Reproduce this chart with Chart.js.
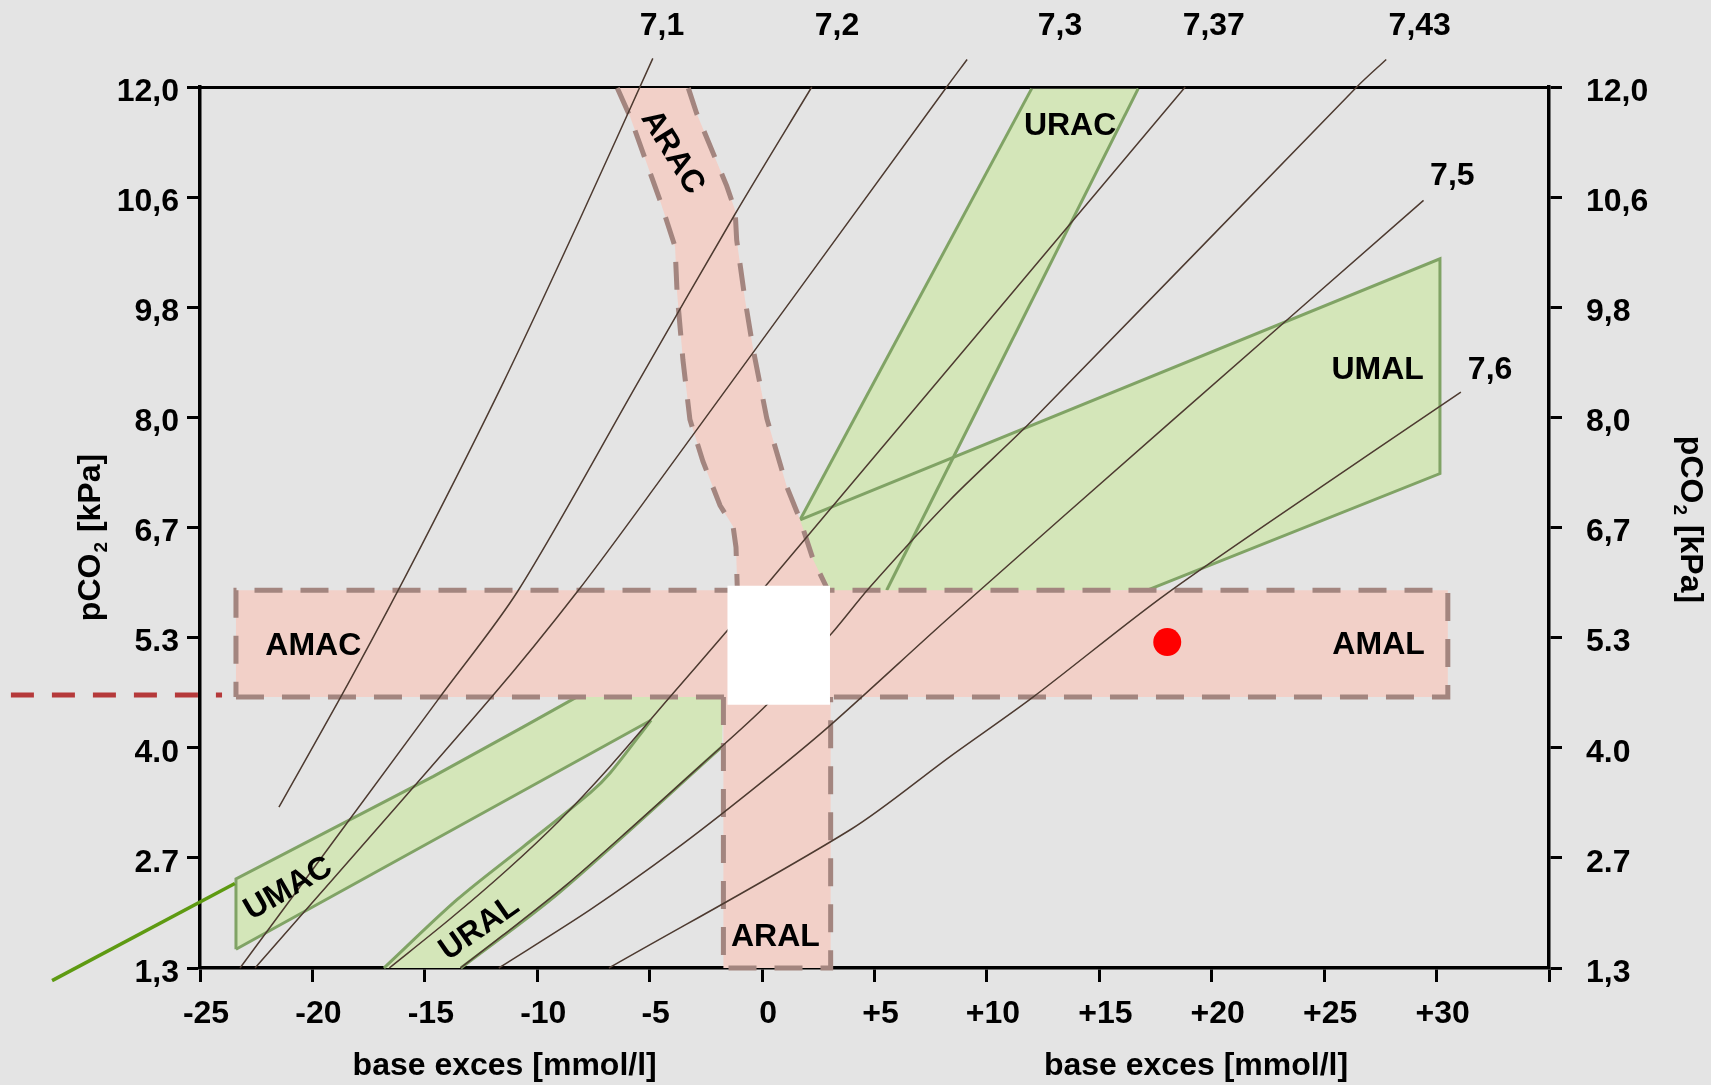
<!DOCTYPE html>
<html>
<head>
<meta charset="utf-8">
<script src="https://cdn.jsdelivr.net/npm/chart.js@4.4.1/dist/chart.umd.min.js"></script>
<style>
  html, body { margin: 0; padding: 0; background: #e4e4e4; }
  #wrap { width: 1711px; height: 1085px; }
</style>
</head>
<body>
<div id="wrap"><canvas id="chart"></canvas></div>
<script>
// axes
const xTicks = [-25, -20, -15, -10, -5, 0, 5, 10, 15, 20, 25, 30];
const yTickLabels = ['1,3', '2.7', '4.0', '5.3', '6,7', '8,0', '9,8', '10,6', '12,0'];
const xTitle = 'base exces [mmol/l]';

// pH isopleths, [base excess, pCO2 position]
const phLabels = ['7,1', '7,2', '7,3', '7,37', '7,43', '7,5', '7,6'];
const ph71 = [[-4.86, 8.26], [-8.08, 6.81], [-11.50, 5.32], [-15.14, 3.84], [-18.23, 2.65], [-21.49, 1.46]];
const ph72 = [[2.21, 8.0], [-1.22, 6.84], [-5.43, 5.35], [-10.84, 3.43], [-14.33, 2.46], [-23.22, 0]];
const ph73 = [[9.12, 8.25], [8.21, 8.0], [-4.54, 4.43], [-8.17, 3.43], [-12.03, 2.46], [-22.55, 0]];
const ph737 = [[18.82, 8.0], [0.20, 3.48], [-1.65, 3.04], [-4.10, 2.46], [-6.76, 1.83], [-9.01, 1.34], [-11.35, 0.89], [-13.91, 0.44], [-16.58, 0]];
const ph743 = [[27.76, 8.25], [26.45, 8.0], [12.06, 4.98], [8.36, 4.25], [4.80, 3.46], [3.10, 3.04], [0.21, 2.39], [-2.73, 1.84], [-5.67, 1.30], [-8.73, 0.75], [-11.51, 0.30], [-13.42, 0]];
const ph75 = [[29.42, 6.97], [18.29, 4.98], [8.36, 3.19], [2.95, 2.19], [-0.43, 1.62], [-3.90, 1.07], [-7.64, 0.53], [-11.71, 0]];
const ph76 = [[31.08, 5.23], [27.04, 4.67], [18.00, 3.40], [12.05, 2.46], [8.36, 1.92], [3.96, 1.26], [-6.81, 0]];
const phLines = [ph71, ph72, ph73, ph737, ph743, ph75, ph76];
const phLabelPos = [[-4.45, 8.58], [3.33, 8.58], [13.25, 8.58], [20.09, 8.58], [29.25, 8.58], [30.70, 7.21], [32.38, 5.45]];

// acute zones (pink)
const amBand = [[-23.4, 2.46], [30.5, 2.46], [30.5, 3.43], [-23.4, 3.43], [-23.4, 2.46]];
const aral = [[-1.72, 2.46], [-1.72, 0], [3.05, 0], [3.05, 2.46]];
const aracLeft = [[-6.44, 7.99], [-5.87, 7.73], [-4.54, 6.97], [-3.87, 6.55], [-3.78, 6.13], [-3.52, 5.52], [-3.21, 4.98], [-2.63, 4.60], [-1.87, 4.20], [-1.29, 4.01], [-1.16, 3.82], [-1.10, 3.43]];
const aracRight = [[-3.28, 7.99], [-2.91, 7.76], [-1.57, 7.10], [-1.20, 6.88], [-1.13, 6.61], [-0.76, 6.07], [-0.39, 5.61], [0.21, 4.99], [1.10, 4.37], [1.69, 4.07], [2.27, 3.71], [2.93, 3.43]];
const normalBox = [[-1.54, 2.39], [3.02, 2.39], [3.02, 3.47], [-1.54, 3.47]];

// compensated zones (green)
const uracArea = [[1.69, 4.07], [11.99, 7.985], [16.73, 7.985], [5.54, 3.41], [1.69, 3.41]];
const umalArea = [[1.69, 4.07], [30.15, 6.44], [30.15, 4.49], [17.11, 3.43], [1.69, 3.41]];
const lowArea = [[-23.40, 0.81], [-14.62, 1.74], [-10.62, 2.19], [-8.25, 2.46], [-1.74, 2.46], [-1.78, 2.01], [-8.99, 0.69], [-13.40, 0], [-16.82, 0], [-13.57, 0.62], [-10.63, 1.10], [-7.65, 1.59], [-6.76, 1.77], [-4.94, 2.25], [-23.40, 0.17]];
const uracLeft = [[1.69, 4.07], [11.99, 7.985]];
const uracRight = [[16.73, 7.985], [5.54, 3.43]];
const umalEdge = [[1.69, 4.07], [30.15, 6.44], [30.15, 4.49], [17.11, 3.43]];
const umacTop = [[-23.40, 0.17], [-23.40, 0.81], [-14.62, 1.74], [-10.62, 2.19], [-8.25, 2.46]];
const umacBottom = [[-23.40, 0.17], [-4.94, 2.25]];
const uralLeft = [[-4.94, 2.25], [-6.76, 1.77], [-7.65, 1.59], [-10.63, 1.10], [-13.57, 0.62], [-16.82, 0]];
const uralRight = [[-13.40, 0], [-8.99, 0.69], [-1.78, 2.01]];

// markers outside the frame and the patient value
const redDash = [[-33.41, 2.48], [-24.02, 2.48]];
const greenPointer = [[-31.58, -0.115], [-23.45, 0.768]];
const patient = [[18.02, 2.96]];

const zoneLabels = ['AMAC', 'AMAL', 'ARAL', 'UMAL', 'URAC', 'ARAC', 'UMAC', 'URAL'];
const zoneLabelPos = [[-19.96, 2.95], [27.42, 2.96], [0.59, 0.30], [27.38, 5.45], [13.70, 7.67], [-3.89, 7.42], [-21.13, 0.74], [-12.64, 0.38]];
const zoneLabelAngle = [0, 0, 0, 0, 0, 58, -30, -35];

const FAMILY = '"Liberation Sans", Arial, Helvetica, sans-serif';
const PINK = '#f2d0c8', PINK_EDGE = '#a3857f';
const GREEN = '#d4e6b9', GREEN_EDGE = '#80a365';

const pts = a => a.map(p => ({ x: p[0], y: p[1] }));

function area(data, color, order) {
  return { data: pts(data), showLine: true, fill: 'shape', backgroundColor: color,
           borderWidth: 0, borderColor: 'transparent', pointRadius: 0, order };
}
function edge(data, color, width, order, dash, tension) {
  return { data: pts(data), showLine: true, fill: false, borderColor: color, borderWidth: width,
           borderDash: dash || [], tension: tension || 0, pointRadius: 0, order, clip: false };
}

const datasets = [
  area(uracArea, GREEN, 60),
  area(umalArea, GREEN, 60),
  area(lowArea, GREEN, 60),
  edge(uracLeft, GREEN_EDGE, 3, 50),
  edge(uracRight, GREEN_EDGE, 3, 50),
  edge(umalEdge, GREEN_EDGE, 3, 50),
  edge(umacTop, GREEN_EDGE, 3, 50),
  edge(umacBottom, GREEN_EDGE, 3, 50),
  edge(uralLeft, GREEN_EDGE, 3, 50, null, 0.3),
  edge(uralRight, GREEN_EDGE, 3, 50, null, 0.3),
  area(amBand, PINK, 40),
  area(aral, PINK, 40),
  area(aracLeft.concat([[-1.10, 3.0], [2.93, 3.0]], aracRight.slice().reverse()), PINK, 40),
  edge(amBand, PINK_EDGE, 5, 30, [28, 18]),
  edge(aral, PINK_EDGE, 5, 30, [28, 18]),
  edge(aracLeft, PINK_EDGE, 5, 30, [28, 18]),
  edge(aracRight, PINK_EDGE, 5, 30, [28, 18])
];
phLines.forEach(l => datasets.push(edge(l, '#4d3a30', 1.5, 20, null, 0.3)));
datasets.push(edge(redDash, '#b5393a', 5, 15, [23, 18]));
datasets.push(edge(greenPointer, '#5e9a12', 3.5, 15));
datasets.push(area(normalBox, '#ffffff', 10));
datasets.push({ data: pts(patient), showLine: false, pointRadius: 14, pointBackgroundColor: '#ff0000',
                pointBorderWidth: 0, order: 5 });

const tickFont = { family: FAMILY, size: 32, weight: 'bold' };

function labelAt(ctx, text, px, py, deg) {
  ctx.save();
  ctx.translate(px, py);
  ctx.rotate(deg * Math.PI / 180);
  ctx.fillText(text, 0, 11.5);
  ctx.restore();
}

function pco2Title(ctx, cx, cy, angle) {
  ctx.save();
  ctx.translate(cx, cy);
  ctx.rotate(angle);
  ctx.textAlign = 'left';
  const big = 'bold 32px ' + FAMILY, small = 'bold 19px ' + FAMILY;
  ctx.font = big;
  const w1 = ctx.measureText('pCO').width, w3 = ctx.measureText(' [kPa]').width;
  ctx.font = small;
  const w2 = ctx.measureText('2').width;
  const x0 = -(w1 + w2 + w3 + 2) / 2;
  ctx.font = big; ctx.fillText('pCO', x0, 11.5);
  ctx.font = small; ctx.fillText('2', x0 + w1 + 1, 18);
  ctx.font = big; ctx.fillText(' [kPa]', x0 + w1 + w2 + 2, 11.5);
  ctx.restore();
}

const textPlugin = {
  id: 'texts',
  afterDatasetsDraw(chart) {
    const { ctx, scales: { x, y } } = chart;
    ctx.save();
    ctx.fillStyle = '#000';
    ctx.font = 'bold 32px ' + FAMILY;
    ctx.textAlign = 'center';
    ctx.textBaseline = 'alphabetic';
    zoneLabels.forEach((t, i) => {
      labelAt(ctx, t, x.getPixelForValue(zoneLabelPos[i][0]), y.getPixelForValue(zoneLabelPos[i][1]), zoneLabelAngle[i]);
    });
    phLabels.forEach((t, i) => {
      labelAt(ctx, t, x.getPixelForValue(phLabelPos[i][0]), y.getPixelForValue(phLabelPos[i][1]), 0);
    });
    ctx.restore();
  },
  afterDraw(chart) {
    const { ctx, chartArea: a, scales: { x } } = chart;
    ctx.save();
    ctx.fillStyle = '#000';
    ctx.font = 'bold 32px ' + FAMILY;
    ctx.textAlign = 'center';
    ctx.textBaseline = 'alphabetic';
    ctx.fillText(xTitle, x.getPixelForValue(-11.45), a.bottom + 107);
    ctx.fillText(xTitle, x.getPixelForValue(19.3), a.bottom + 107);
    const midY = (a.top + a.bottom) / 2;
    pco2Title(ctx, a.left - 111.5, midY + 10, -Math.PI / 2);
    pco2Title(ctx, a.right + 143, midY - 8, Math.PI / 2);
    ctx.restore();
  }
};

const yAxis = (position, padding, width) => ({
  type: 'linear', position, min: 0, max: 8,
  ticks: { stepSize: 1, color: '#000', font: tickFont, padding, labelOffset: 5,
           callback: v => yTickLabels[Math.round(v)] },
  grid: { drawOnChartArea: false, tickLength: 13, tickWidth: 3, tickColor: '#000', color: '#000' },
  border: { display: true, color: '#000', width: 3.5 },
  afterFit: s => { s.width = width; }
});

new Chart(document.getElementById('chart'), {
  type: 'scatter',
  data: { datasets },
  options: {
    responsive: true,
    maintainAspectRatio: false,
    animation: false,
    devicePixelRatio: 1,
    layout: { padding: 0 },
    plugins: { legend: { display: false }, tooltip: { enabled: false } },
    elements: { point: { radius: 0, hitRadius: 0 }, line: { tension: 0, capBezierPoints: false } },
    scales: {
      x: {
        type: 'linear', position: 'bottom', min: -25, max: 35,
        ticks: { stepSize: 5, color: '#000', font: tickFont, padding: 13, labelOffset: 6,
                 maxRotation: 0, autoSkip: false,
                 callback: v => xTicks.includes(v) ? (v > 0 ? '+' + v : String(v)) : '' },
        grid: { drawOnChartArea: false, tickLength: 14, tickWidth: 3, tickColor: '#000', color: '#000' },
        border: { display: true, color: '#000', width: 3.5 },
        afterFit: s => { s.height = 117; }
      },
      xTop: {
        type: 'linear', position: 'top', min: -25, max: 35,
        ticks: { display: false },
        grid: { drawOnChartArea: false, drawTicks: false },
        border: { display: true, color: '#000', width: 3 },
        afterFit: s => { s.height = 87; }
      },
      y: yAxis('left', 8, 200),
      yRight: yAxis('right', 24, 162)
    }
  },
  plugins: [textPlugin]
});
</script>
</body>
</html>
